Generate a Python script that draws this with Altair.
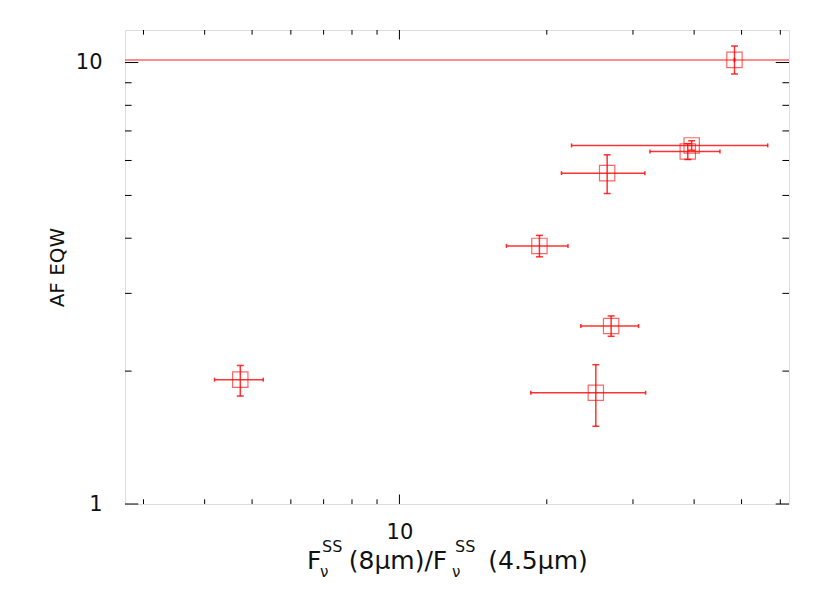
import altair as alt
import pandas as pd

# ---- data ----
x_vals = [4.73, 25.19, 19.32, 27.07, 26.57, 39.54, 38.82, 48.36]
x_lo   = [4.19, 18.55, 16.54, 23.47, 21.43, 22.47, 32.49, 48.36]
x_hi   = [5.27, 31.84, 22.10, 30.80, 31.73, 56.55, 45.17, 48.36]
y_vals = [1.913, 1.787, 3.843, 2.530, 5.617, 6.49, 6.29, 10.14]
y_lo   = [1.756, 1.500, 3.630, 2.398, 5.050, 6.33, 6.03, 9.42]
y_hi   = [2.060, 2.068, 4.060, 2.667, 6.180, 6.65, 6.55, 10.90]
ref_line = [10.13]

x_domain = [2.75, 62.5]
y_domain = [1.0, 11.85]
x_major = [10]
x_minor = [3, 4, 5, 6, 7, 8, 9, 20, 30, 40, 50, 60]
y_major = [1, 10]
y_minor = [2, 3, 4, 5, 6, 7, 8, 9]

W, H = 664, 474
RED = "#ff0000"
FONT = "DejaVu Sans"

df = pd.DataFrame({"x": x_vals, "xlo": x_lo, "xhi": x_hi,
                   "y": y_vals, "ylo": y_lo, "yhi": y_hi})

xs = alt.Scale(type="log", domain=x_domain, nice=False)
ys = alt.Scale(type="log", domain=y_domain, nice=False)

AX_X = alt.Axis(values=x_major, ticks=False, domain=False, grid=False,
                labelFont=FONT, labelFontSize=21, labelColor="#111",
                labelPadding=17, format="d")
AX_Y = alt.Axis(values=y_major, ticks=False, domain=False, grid=False,
                labelFont=FONT, labelFontSize=21, labelColor="#111",
                labelPadding=23, format="d",
                titleFont=FONT, titleFontSize=20,
                titleFontWeight="normal", titleColor="#111", titlePadding=8)


def X(f):
    return alt.X(f, type="quantitative", scale=xs, axis=AX_X, title=None)


def Y(f):
    return alt.Y(f, type="quantitative", scale=ys, axis=AX_Y, title="AF  EQW")


# reference horizontal line
hline = alt.Chart(pd.DataFrame({"v": ref_line})).mark_rule(
    color=RED, strokeWidth=1.5, opacity=0.6).encode(y=Y("v"))

# error bars
xbar = alt.Chart(df).mark_rule(color=RED, strokeWidth=1.5, opacity=0.8).encode(
    x=X("xlo"), x2="xhi", y=Y("y"))
ybar = alt.Chart(df).mark_rule(color=RED, strokeWidth=1.5, opacity=0.8).encode(
    y=Y("ylo"), y2="yhi", x=X("x"))
xcap_lo = alt.Chart(df).mark_tick(orient="vertical", size=4, thickness=1.5,
                                  color=RED, opacity=0.8).encode(x=X("xlo"), y=Y("y"))
xcap_hi = alt.Chart(df).mark_tick(orient="vertical", size=4, thickness=1.5,
                                  color=RED, opacity=0.8).encode(x=X("xhi"), y=Y("y"))
ycap_lo = alt.Chart(df).mark_tick(orient="horizontal", size=7, thickness=1.5,
                                  color=RED, opacity=0.8).encode(x=X("x"), y=Y("ylo"))
ycap_hi = alt.Chart(df).mark_tick(orient="horizontal", size=7, thickness=1.5,
                                  color=RED, opacity=0.8).encode(x=X("x"), y=Y("yhi"))

squares = alt.Chart(df).mark_point(shape="square", filled=False, size=235,
                                   color=RED, strokeWidth=1.2, opacity=0.6).encode(
    x=X("x"), y=Y("y"))


# inward IDL-style ticks on all four sides
def xticks(vals, length):
    d = pd.DataFrame({"v": vals})
    bot = alt.Chart(d).mark_rule(color="#000", strokeWidth=1).encode(
        x=X("v"), y=alt.value(H), y2=alt.value(H - length))
    top = alt.Chart(d).mark_rule(color="#000", strokeWidth=1).encode(
        x=X("v"), y=alt.value(0), y2=alt.value(length))
    return [bot, top]


def yticks(vals, length):
    d = pd.DataFrame({"v": vals})
    left = alt.Chart(d).mark_rule(color="#000", strokeWidth=1).encode(
        y=Y("v"), x=alt.value(0), x2=alt.value(length))
    right = alt.Chart(d).mark_rule(color="#000", strokeWidth=1).encode(
        y=Y("v"), x=alt.value(W), x2=alt.value(W - length))
    return [left, right]


tick_layers = (xticks(x_minor, 4.7) + xticks(x_major, 9.5)
               + yticks(y_minor, 6.6) + yticks(y_major, 13.3))

# x-axis title with sub/superscripts, built from text pieces
title_parts = pd.DataFrame({
    "t":  ["F", "ν", "SS", "(8μm)/F", "ν", "SS", "(4.5μm)"],
    "px": [307, 320, 322, 398, 452, 455, 538],
    "py": [569, 577, 552, 569, 577, 552, 569],
    "fs": [25, 15, 16, 25, 15, 16, 25],
    "al": ["left", "left", "left", "center", "left", "left", "center"],
})
OX, OY = 125, 30  # plot origin in page coordinates
title_layers = []
for _, r in title_parts.iterrows():
    title_layers.append(
        alt.Chart(pd.DataFrame({"t": [r["t"]]})).mark_text(
            font=FONT, fontSize=int(r["fs"]), align=r["al"], baseline="alphabetic",
            color="#111").encode(
            text="t:N", x=alt.value(float(r["px"] - OX)), y=alt.value(float(r["py"] - OY)))
    )

chart = alt.layer(hline, xbar, ybar, xcap_lo, xcap_hi, ycap_lo, ycap_hi,
                  squares, *tick_layers, *title_layers).properties(
    width=W, height=H,
    autosize=alt.AutoSizeParams(type="none"),
    padding={"left": 117, "top": 22, "right": 25, "bottom": 84},
).configure_view(stroke="#000", strokeWidth=1).configure(background="white")

chart.save("out.html", embed_options={"renderer": "svg", "actions": False})
